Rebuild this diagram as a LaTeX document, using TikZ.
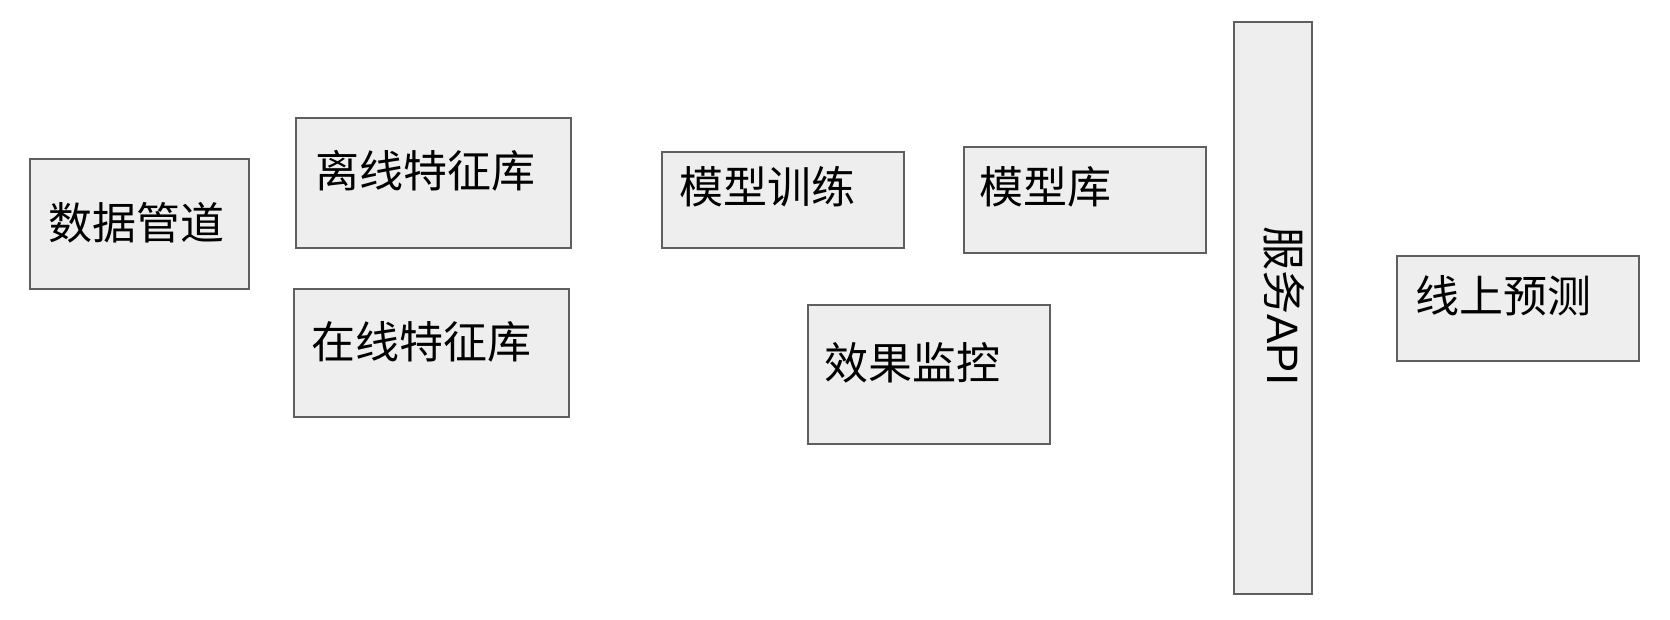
\documentclass[tikz,border=0pt]{standalone}
\usepackage{fontspec}
\setmainfont{Noto Sans CJK SC}
\newfontfamily\apifont{Liberation Sans}
\usepackage{tikz}
\usetikzlibrary{calc}

\definecolor{boxfill}{HTML}{EEEEEE}
\definecolor{boxline}{HTML}{5F5F5F}
\tikzset{
  box/.style={draw=boxline, fill=boxfill, line width=1pt, inner sep=0pt, anchor=north west},
  txt/.style={inner sep=0pt, font=\fontsize{22pt}{26pt}\selectfont, anchor=base west}
}

\begin{document}
\begin{tikzpicture}[x=0.5pt, y=-0.5pt]
            \useasboundingbox (0,0) rectangle (1670,620);
            % boxes, pixel corners of the sketch
            \node[box, minimum width=109.5pt, minimum height=65pt] (pipe) at (29,158) {};
            \node[box, minimum width=137.5pt, minimum height=65pt] (offline) at (295,117) {};
            \node[box, minimum width=137.5pt, minimum height=64pt] (online) at (293,288) {};
            \node[box, minimum width=121pt, minimum height=48pt] (train) at (661,151) {};
            \node[box, minimum width=121pt, minimum height=53pt] (store) at (963,146) {};
            \node[box, minimum width=121pt, minimum height=69.5pt] (monitor) at (807,304) {};
            \node[box, minimum width=39pt, minimum height=286pt] (api) at (1233,21) {};
            \node[box, minimum width=121pt, minimum height=52.5pt] (predict) at (1396,255) {};
            % texts
            \node[txt] (pipeT) at (48,240) {数据管道};
            \node[txt] (offlineT) at (315,188) {离线特征库};
            \node[txt] (onlineT) at (311,358) {在线特征库};
            \node[txt] (trainT) at (679,204) {模型训练};
            \node[txt] (storeT) at (979,204) {模型库};
            \node[txt] (monitorT) at (824,379) {效果监控};
            \node[txt, anchor=base, rotate=-90] (apiT) at (1267,306) {服务{\apifont API}};
            \node[txt] (predictT) at (1415,313) {线上预测};
            %\draw[->] (pipe) -- (offline);
\end{tikzpicture}
\end{document}
